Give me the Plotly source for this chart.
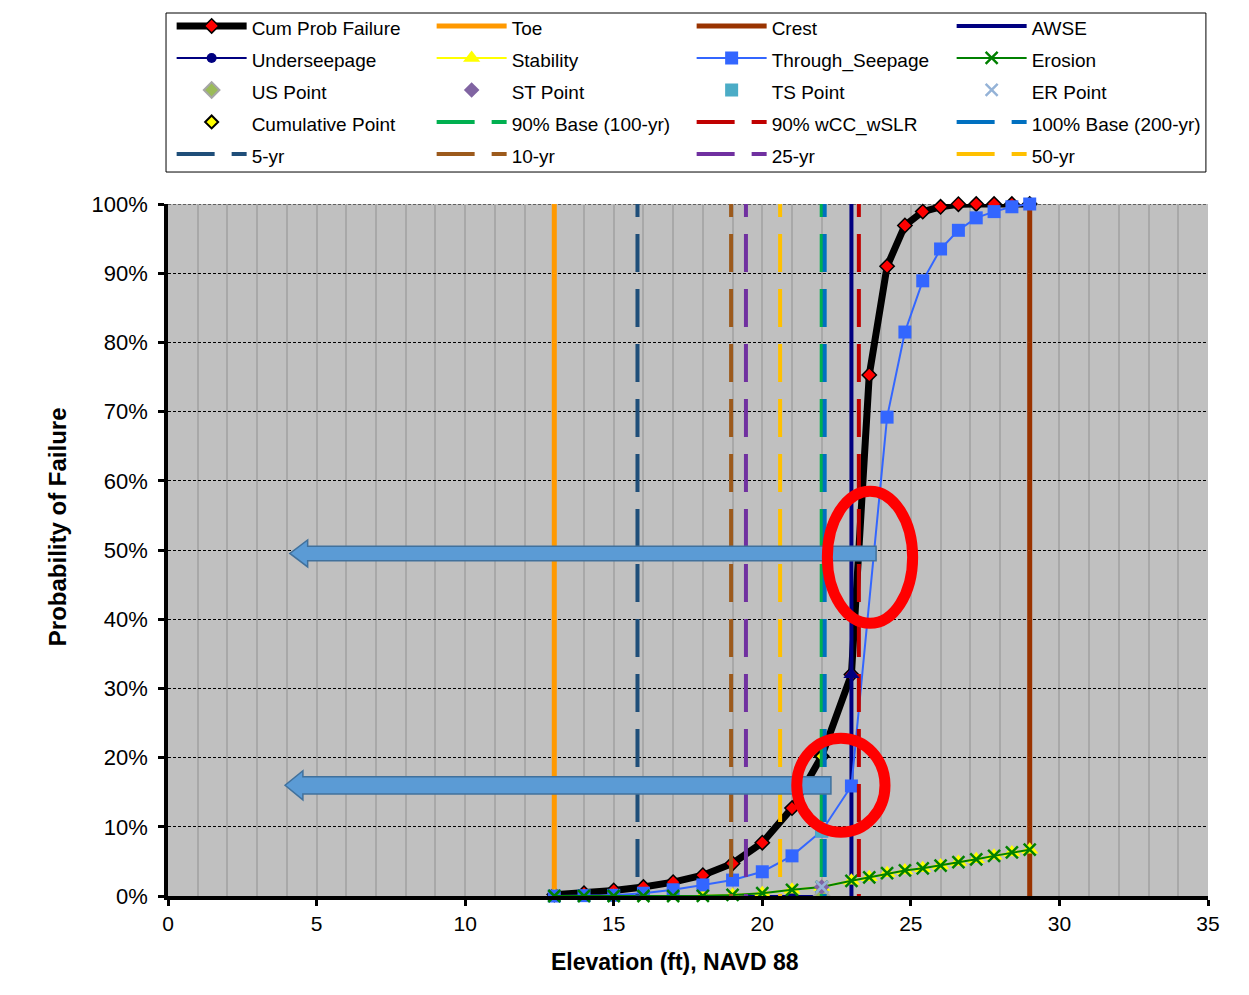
import plotly.graph_objects as go

# ---------------- data ----------------
elev = [13, 14, 15, 16, 17, 18, 19, 20, 21, 22, 23, 23.6, 24.2, 24.8, 25.4, 26, 26.6, 27.2, 27.8, 28.4, 29]
cum_prob = [0.002, 0.004, 0.008, 0.013, 0.020, 0.030, 0.047, 0.077, 0.127, 0.202, 0.320,
            0.753, 0.910, 0.969, 0.989, 0.996, 0.9997, 1.0, 1.0, 1.0, 1.0]
ts_elev = [13, 14, 15, 16, 17, 18, 19, 20, 21, 22, 23, 24.2, 24.8, 25.4, 26, 26.6, 27.2, 27.8, 28.4, 29]
through_seepage = [0.0, 0.0005, 0.001, 0.004, 0.009, 0.016, 0.023, 0.035, 0.058, 0.094, 0.159,
                   0.692, 0.815, 0.889, 0.935, 0.962, 0.980, 0.989, 0.996, 1.0]
erosion = [0.0, 0.0, 0.0, 0.0, 0.0, 0.0002, 0.0015, 0.004, 0.009, 0.013, 0.022,
           0.027, 0.033, 0.037, 0.040, 0.044, 0.049, 0.053, 0.058, 0.063, 0.067]
stability = [0.0, 0.0, 0.0, 0.0, 0.0, 0.0002, 0.0015, 0.004, 0.009, 0.013, 0.022,
             0.027, 0.033, 0.037, 0.040, 0.044, 0.049, 0.053, 0.058, 0.063, 0.067]
underseepage_elev = [13, 14, 15, 16, 17, 18, 19, 20, 21, 22]
underseepage = [0.0, 0.0, 0.0, 0.0, 0.0, 0.0, 0.0, 0.0, 0.0, 0.0]

# single points at the evaluated elevation
point_elev = 22
us_point = 0.0
st_point = 0.013
ts_point = 0.094
er_point = 0.013
cumulative_point = 0.202
awse_point = 0.320

# vertical reference elevations
toe_elev = 13
crest_elev = 29
awse_elev = 23
dashed_names = ["90% Base (100-yr)", "90% wCC_wSLR", "100% Base (200-yr)", "5-yr", "10-yr", "25-yr", "50-yr"]
dashed_elev = [22.0, 23.25, 22.1, 15.8, 18.95, 19.45, 20.6]
dashed_colors = ["#00B050", "#C00000", "#0070C0", "#1F4E79", "#9C5A1C", "#7030A0", "#FFC000"]

x_ticks = [0, 5, 10, 15, 20, 25, 30, 35]
y_ticks = [0, 0.1, 0.2, 0.3, 0.4, 0.5, 0.6, 0.7, 0.8, 0.9, 1.0]

# callouts (decorations): arrows (tail x, tip x, y, half shaft, half head) and ellipses (x0, x1, y0, y1)
callout_arrows = [(23.83, 4.10, 0.495, 0.0105, 0.0195), (22.31, 3.94, 0.160, 0.0125, 0.021)]
callout_ellipses = [(22.19, 25.06, 0.394, 0.585), (21.16, 24.13, 0.092, 0.228)]

FONT = "Liberation Sans, Arial, sans-serif"


def lname(s):
    return '<span style="font-size:19px">' + s + '</span>'


fig = go.Figure()

# 1 Cum Prob Failure
fig.add_trace(go.Scatter(x=elev, y=cum_prob, name=lname("Cum Prob Failure"), mode="lines+markers",
                         cliponaxis=False,
                         line=dict(color="black", width=7),
                         marker=dict(symbol="diamond", size=11, color="#FF0000",
                                     line=dict(color="black", width=1.5))))
# 2-4 solid verticals
fig.add_trace(go.Scatter(x=[toe_elev, toe_elev], y=[0, 1], name=lname("Toe"), mode="lines",
                         line=dict(color="#FF9900", width=5)))
fig.add_trace(go.Scatter(x=[crest_elev, crest_elev], y=[0, 1], name=lname("Crest"), mode="lines",
                         line=dict(color="#993300", width=5)))
fig.add_trace(go.Scatter(x=[awse_elev, awse_elev], y=[0, 1], name=lname("AWSE"), mode="lines",
                         line=dict(color="#000080", width=4)))
# 5-8 component curves
fig.add_trace(go.Scatter(x=underseepage_elev, y=underseepage, name=lname("Underseepage"), mode="lines+markers",
                         line=dict(color="#000080", width=2),
                         marker=dict(symbol="circle", size=10, color="#000080")))
fig.add_trace(go.Scatter(x=elev, y=stability, name=lname("Stability"), mode="lines+markers",
                         cliponaxis=False,
                         line=dict(color="#FFFF00", width=2),
                         marker=dict(symbol="triangle-up", size=15, color="#FFFF00")))
fig.add_trace(go.Scatter(x=ts_elev, y=through_seepage, name=lname("Through_Seepage"), mode="lines+markers",
                         cliponaxis=False,
                         line=dict(color="#3366FF", width=2),
                         marker=dict(symbol="square", size=13, color="#3366FF")))
fig.add_trace(go.Scatter(x=elev, y=erosion, name=lname("Erosion"), mode="lines+markers",
                         cliponaxis=False,
                         line=dict(color="#008000", width=2),
                         marker=dict(symbol="x-thin", size=12, color="#008000",
                                     line=dict(color="#008000", width=2.5))))
# 9-13 points
fig.add_trace(go.Scatter(x=[point_elev], y=[us_point], name=lname("US Point"), mode="markers",
                         marker=dict(symbol="diamond", size=12, color="#9BBB59",
                                     line=dict(color="#A6A6A6", width=2))))
fig.add_trace(go.Scatter(x=[point_elev], y=[st_point], name=lname("ST Point"), mode="markers",
                         marker=dict(symbol="diamond", size=12, color="#8064A2")))
fig.add_trace(go.Scatter(x=[point_elev], y=[ts_point], name=lname("TS Point"), mode="markers",
                         marker=dict(symbol="square", size=13, color="#4BACC6")))
fig.add_trace(go.Scatter(x=[point_elev], y=[er_point], name=lname("ER Point"), mode="markers",
                         marker=dict(symbol="x-thin", size=12, color="#95B3D7",
                                     line=dict(color="#95B3D7", width=2.5))))
fig.add_trace(go.Scatter(x=[point_elev], y=[cumulative_point], name=lname("Cumulative Point"), mode="markers",
                         marker=dict(symbol="diamond", size=10, color="#FFFF00",
                                     line=dict(color="black", width=2))))
# 14-20 dashed verticals
for nm, xv, col in zip(dashed_names, dashed_elev, dashed_colors):
    fig.add_trace(go.Scatter(x=[xv, xv], y=[-0.052, 1.0], name=lname(nm), mode="lines",
                             line=dict(color=col, width=4, dash="38px,17px")))

# AWSE intersection marker
fig.add_trace(go.Scatter(x=[awse_elev], y=[awse_point], mode="markers", showlegend=False,
                         marker=dict(symbol="triangle-up", size=14, color="#000080")))

# top (100%) dashed gridline
fig.add_shape(type="line", xref="paper", x0=0, x1=1, yref="y", y0=1, y1=1,
              line=dict(color="black", width=1, dash="3px,2px"), layer="below")

# legend frame
fig.add_shape(type="rect", xref="paper", yref="paper", x0=-0.0019, x1=0.998, y0=1.0462, y1=1.276,
              line=dict(color="black", width=1), fillcolor="rgba(0,0,0,0)")

# callout shapes
for (xt, xh, yc, sh, hh) in callout_arrows:
    hl = 0.6
    path = (f"M{xt},{yc + sh} L{xh + hl},{yc + sh} L{xh + hl},{yc + hh} L{xh},{yc} "
            f"L{xh + hl},{yc - hh} L{xh + hl},{yc - sh} L{xt},{yc - sh} Z")
    fig.add_shape(type="path", path=path, xref="x", yref="y",
                  fillcolor="#5B9BD5", line=dict(color="#41719C", width=1.5), layer="above")
for (x0, x1, y0, y1) in callout_ellipses:
    fig.add_shape(type="circle", x0=x0, x1=x1, y0=y0, y1=y1, xref="x", yref="y",
                  line=dict(color="#FF0000", width=11), layer="above")

# axis titles
fig.add_annotation(text="<b>Elevation (ft), NAVD 88</b>", xref="paper", yref="paper",
                   x=0.4875, y=-0.0954, xanchor="center", yanchor="middle", showarrow=False,
                   font=dict(size=23, family=FONT, color="black"))
fig.add_annotation(text="<b>Probability of Failure</b>", xref="paper", yref="paper",
                   x=-0.1067, y=0.533, xanchor="center", yanchor="middle", showarrow=False,
                   textangle=-90, font=dict(size=24, family=FONT, color="black"))

fig.update_layout(
    width=1249, height=995, autosize=False,
    margin=dict(l=168, r=41, t=204, b=99, pad=0, autoexpand=False),
    paper_bgcolor="white", plot_bgcolor="#C0C0C0",
    font=dict(family=FONT, color="black"),
    showlegend=True,
    legend=dict(orientation="h", x=0.0035, xanchor="left", y=1.2876, yanchor="top",
                entrywidth=175, entrywidthmode="pixels", itemwidth=70,
                font=dict(family=FONT, size=22.3, color="black"),
                bgcolor="rgba(0,0,0,0)", borderwidth=0,
                traceorder="normal"),
    xaxis=dict(range=[0, 35], tickvals=x_ticks, showgrid=True, gridcolor="#A8A8A8", gridwidth=1.5,
               minor=dict(dtick=1, showgrid=True, gridcolor="#A8A8A8", gridwidth=1.5),
               showline=True, linecolor="black", linewidth=3.5, ticks="outside", ticklen=6,
               tickwidth=3, tickcolor="black", zeroline=False,
               tickfont=dict(size=21, family=FONT, color="black")),
    yaxis=dict(range=[0, 1], tickvals=y_ticks, tickformat=".0%", showgrid=True,
               gridcolor="black", gridwidth=1, griddash="3px,2px",
               showline=True, linecolor="black", linewidth=3.5, ticks="outside", ticklen=6,
               tickwidth=3, tickcolor="black", zeroline=False, ticklabelstandoff=6,
               tickfont=dict(size=22, family=FONT, color="black")),
)

fig.write_html("out.html", config={"displayModeBar": False},
               post_script="document.body.style.margin='0px';")
